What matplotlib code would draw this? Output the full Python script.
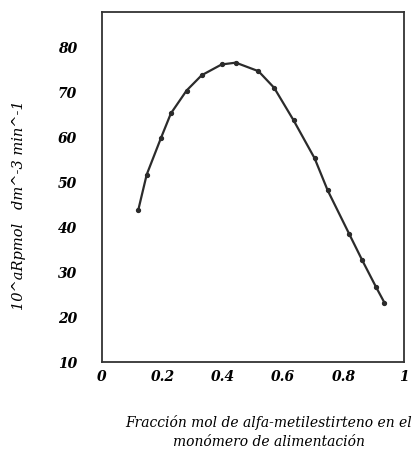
import matplotlib
matplotlib.use("Agg")
import matplotlib.pyplot as plt

# Values
fraccion = [0.120, 0.148, 0.195, 0.228, 0.280, 0.330, 0.396, 0.443, 0.518,
            0.570, 0.634, 0.704, 0.747, 0.819, 0.861, 0.907, 0.935]
rp = [43.8, 51.7, 59.8, 65.3, 70.4, 73.8, 76.2, 76.6, 74.7,
      71.0, 63.8, 55.3, 48.2, 38.4, 32.7, 26.7, 23.2]

x_ticks = [0, 0.2, 0.4, 0.6, 0.8, 1]
x_labels = ["0", "0.2", "0.4", "0.6", "0.8", "1"]
y_ticks = [10, 20, 30, 40, 50, 60, 70, 80]

plt.rcParams["font.family"] = ["DejaVu Serif"]

fig = plt.figure(figsize=(4.17, 4.51), dpi=100)
ax = fig.add_axes([0.2446, 0.1973, 0.7244, 0.7754])

ax.plot(fraccion, rp, color="#2b2b2b", lw=1.6, marker="o", ms=2.8)

ax.set_xlim(0, 1)
ax.set_ylim(10, 87.8)
ax.set_xticks(x_ticks)
ax.set_xticklabels(x_labels)
ax.set_yticks(y_ticks)
ax.tick_params(length=0, labelsize=10)
ax.tick_params(axis="y", pad=18)
ax.tick_params(axis="x", pad=6)
for lab in ax.get_xticklabels() + ax.get_yticklabels():
    lab.set_fontstyle("italic")
    lab.set_fontweight("bold")
for s in ax.spines.values():
    s.set_linewidth(1.3)
    s.set_color("#333333")

fig.text(0.045, 0.545, "10^aRpmol   dm^-3 min^-1", rotation=90,
         ha="center", va="center", fontsize=10.5, style="italic")
fig.text(0.644, 0.042, "Fracción mol de alfa-metilestirteno en el\nmonómero de alimentación",
         ha="center", va="center", fontsize=10, style="italic", linespacing=1.4)

fig.savefig("out.png", dpi=100)
